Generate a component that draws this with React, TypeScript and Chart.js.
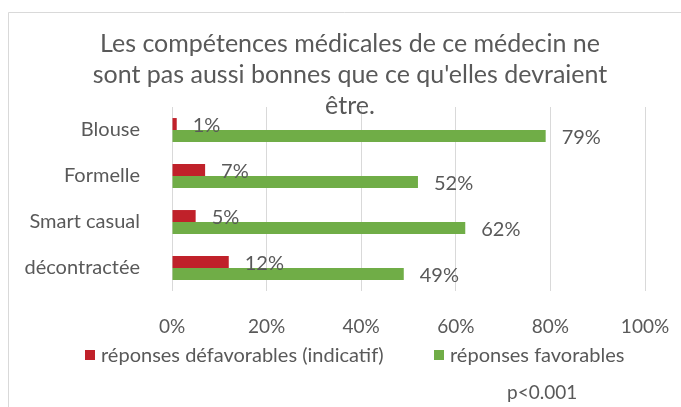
import { useEffect, useRef } from "react";
import { Chart, registerables } from "chart.js";

Chart.register(...registerables);

const categories = ["Blouse", "Formelle", "Smart casual", "décontractée"];
const unfavorable = [1, 7, 5, 12];
const favorable = [79, 52, 62, 49];
const xTickValues = [0, 20, 40, 60, 80, 100];
const titleLines = [
  "Les compétences médicales de ce médecin ne",
  "sont pas aussi bonnes que ce qu'elles devraient",
  "être.",
];
const seriesNames = ["réponses défavorables (indicatif)", "réponses favorables"];
const noteText = "p<0.001";

const RED = "#C0212A";
const GREEN = "#70AD47";
const TEXT = "#595959";
const GRID = "#D9D9D9";
const FONT = "Lato";

const decorPlugin = {
  id: "decor",
  beforeDraw(chart: any) {
    const ctx = chart.ctx;
    ctx.save();
    ctx.fillStyle = "#ffffff";
    ctx.fillRect(0, 0, chart.width, chart.height);
    ctx.strokeStyle = GRID;
    ctx.lineWidth = 1;
    ctx.beginPath();
    ctx.moveTo(8.5, chart.height);
    ctx.lineTo(8.5, 12.5);
    ctx.lineTo(chart.width, 12.5);
    ctx.stroke();
    ctx.restore();
  },
  afterDraw(chart: any) {
    const ctx = chart.ctx;
    ctx.save();
    ctx.fillStyle = TEXT;
    ctx.textBaseline = "middle";
    // title
    ctx.textAlign = "center";
    ctx.font = `25px ${FONT}`;
    const ty = [44, 75, 106];
    titleLines.forEach((l, i) => ctx.fillText(l, 350, ty[i]));
    // legend
    ctx.textAlign = "left";
    ctx.font = `20px ${FONT}`;
    const colors = [RED, GREEN];
    const lx = [85, 434];
    seriesNames.forEach((n, i) => {
      ctx.fillStyle = colors[i];
      ctx.fillRect(lx[i], 350, 10, 10);
      ctx.fillStyle = TEXT;
      ctx.fillText(n, lx[i] + 16, 356);
    });
    ctx.font = `19px ${FONT}`;
    ctx.fillText(noteText, 507, 393);
    ctx.restore();
  },
};

const labelPlugin = {
  id: "valueLabels",
  afterDatasetsDraw(chart: any) {
    const ctx = chart.ctx;
    ctx.save();
    ctx.fillStyle = TEXT;
    ctx.font = `20px ${FONT}`;
    ctx.textAlign = "left";
    ctx.textBaseline = "middle";
    chart.data.datasets.forEach((ds: any, di: number) => {
      const meta = chart.getDatasetMeta(di);
      meta.data.forEach((el: any, i: number) => {
        ctx.fillText(`${ds.data[i]}%`, el.x + 16, el.y + 2);
      });
    });
    ctx.restore();
  },
};

export default function App() {
  const ref = useRef<HTMLCanvasElement>(null);
  useEffect(() => {
    if (!ref.current) return;
    const chart = new Chart(ref.current, {
      type: "bar",
      data: {
        labels: categories,
        datasets: [
          { label: seriesNames[0], data: unfavorable, backgroundColor: RED },
          { label: seriesNames[1], data: favorable, backgroundColor: GREEN },
        ],
      },
      options: {
        indexAxis: "y",
        responsive: false,
        animation: false,
        devicePixelRatio: 1,
        categoryPercentage: 0.52,
        barPercentage: 1,
        layout: { padding: { left: 0, right: 36, top: 107, bottom: 0 } },
        plugins: {
          legend: { display: false },
          title: { display: false },
          tooltip: { enabled: false },
        },
        scales: {
          x: {
            min: 0,
            max: 100,
            afterFit: (s: any) => {
              s.height = 116;
              s.paddingLeft = 0;
              s.paddingRight = 0;
            },
            afterBuildTicks: (s: any) => {
              s.ticks = xTickValues.map((v) => ({ value: v }));
            },
            border: { display: false },
            grid: { color: GRID, drawTicks: false },
            ticks: {
              padding: 24,
              color: TEXT,
              font: { family: FONT, size: 19 },
              maxRotation: 0,
              callback: (v: any) => `${v}%`,
            },
          },
          y: {
            afterFit: (s: any) => {
              s.width = 172;
              s.paddingTop = 0;
              s.paddingBottom = 0;
            },
            border: { display: false },
            grid: { display: false },
            ticks: {
              padding: 24,
              color: TEXT,
              font: { family: FONT, size: 20 },
            },
          },
        },
      },
      plugins: [decorPlugin, labelPlugin],
    });
    return () => chart.destroy();
  }, []);
  return (
    <div style={{ position: "fixed", left: 0, top: 0, width: 681, height: 407 }}>
      <canvas ref={ref} width={681} height={407} />
    </div>
  );
}
